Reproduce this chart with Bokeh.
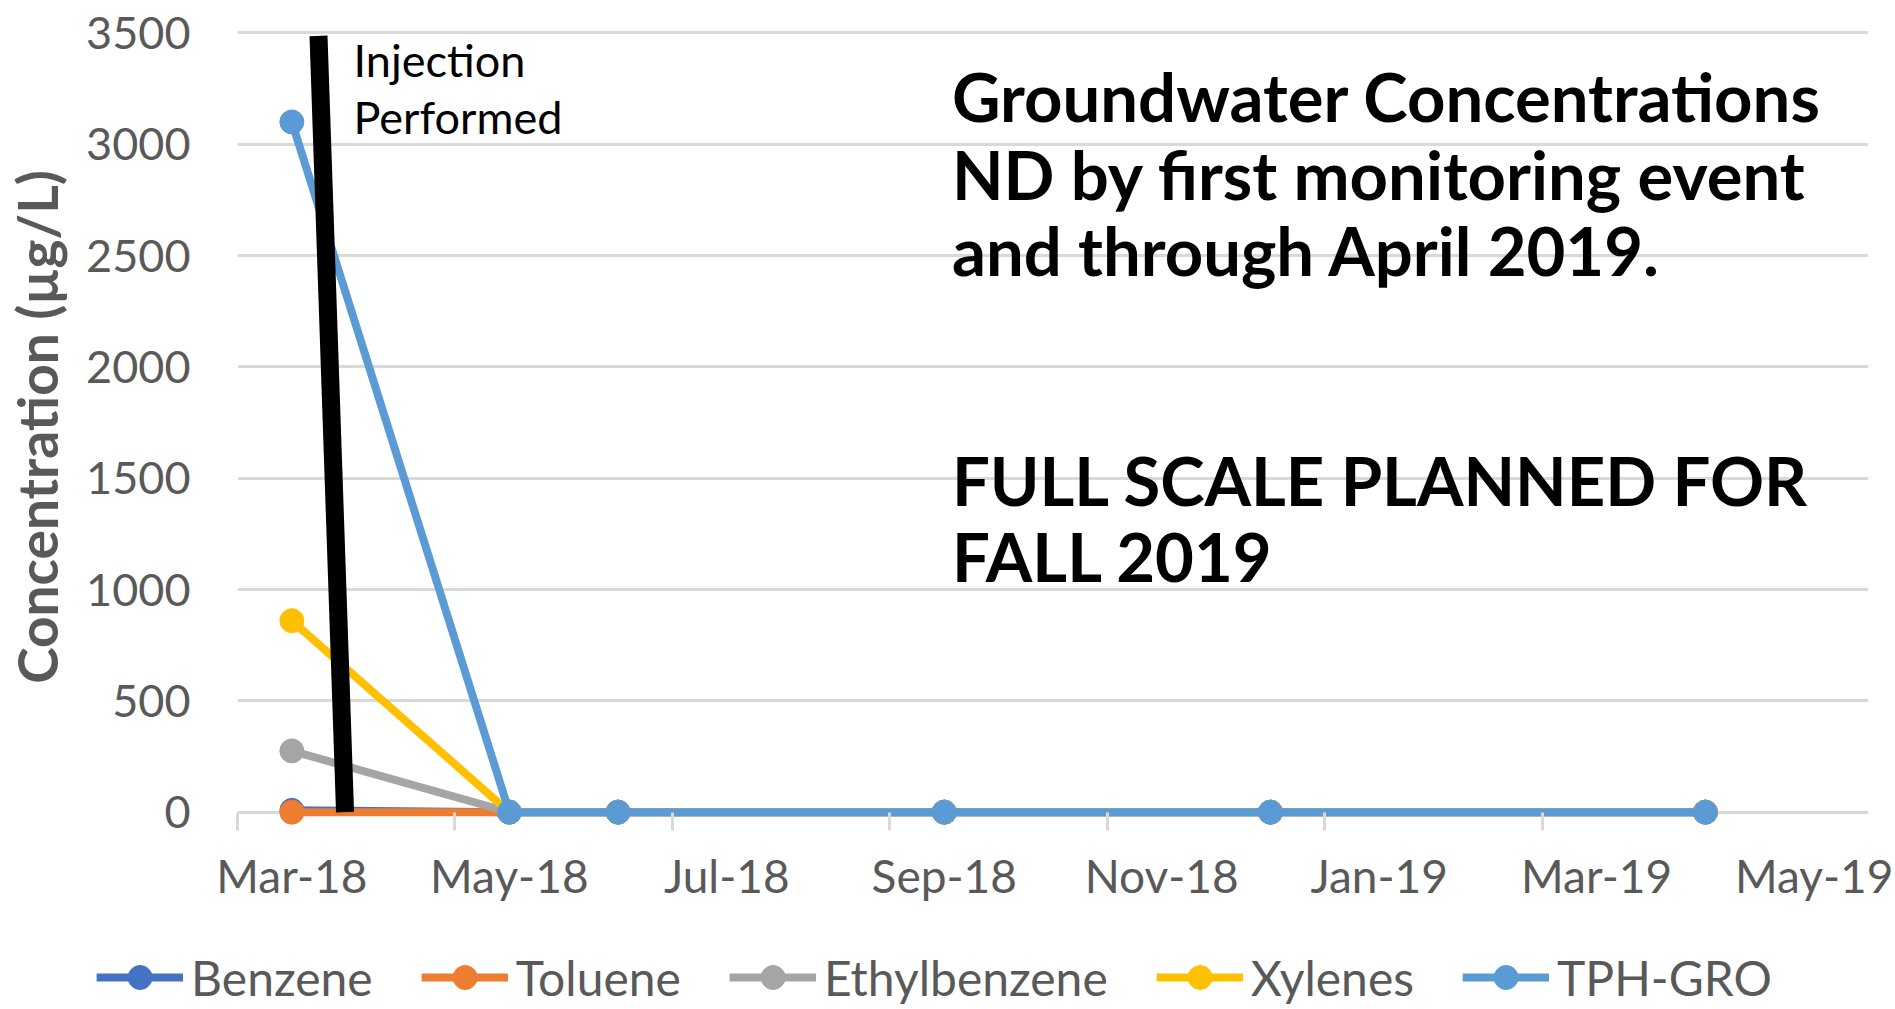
from bokeh.plotting import figure
from bokeh.layouts import column, row
from bokeh.models import FixedTicker, Legend, LegendItem, Label, Range1d, ColumnDataSource
from bokeh.embed import file_html
from bokeh.resources import INLINE

# ---------------- data ----------------
sample_months = ["2018-03", "2018-05", "2018-06", "2018-09", "2018-12", "2019-04"]
benzene = [8, 0, 0, 0, 0, 0]
toluene = [0, 0, 0, 0, 0, 0]
ethylbenzene = [275, 0, 0, 0, 0, 0]
xylenes = [860, 0, 0, 0, 0, 0]
tph_gro = [3100, 0, 0, 0, 0, 0]

series_names = ["Benzene", "Toluene", "Ethylbenzene", "Xylenes", "TPH-GRO"]
series_values = [benzene, toluene, ethylbenzene, xylenes, tph_gro]
series_colors = ["#4472C4", "#ED7D31", "#A5A5A5", "#FFC000", "#5B9BD5"]

y_ticks = [0, 500, 1000, 1500, 2000, 2500, 3000, 3500]
x_tick_months = ["2018-03", "2018-05", "2018-07", "2018-09", "2018-11", "2019-01", "2019-03", "2019-05"]
x_tick_labels = ["Mar-18", "May-18", "Jul-18", "Sep-18", "Nov-18", "Jan-19", "Mar-19", "May-19"]

# injection marker (drawn shape), in month index / concentration units
injection_x = [0.245, 0.489]
injection_y = [3487, 0]

title_lines = ["Groundwater Concentrations", "ND by first monitoring event", "and through April 2019."]
plan_lines = ["FULL SCALE PLANNED FOR", "FALL 2019"]
injection_lines = ["Injection", "Performed"]


def month_index(s):
    y, m = s.split("-")
    return (int(y) - 2018) * 12 + (int(m) - 3)


xs = [month_index(s) for s in sample_months]
tick_pos = [month_index(s) for s in x_tick_months]

GRAY = "#595959"
GRID = "#D9D9D9"
FONT = "Lato"
LW = 8
MS = 24

p = figure(width=1895, height=930, output_backend="svg", toolbar_location=None,
           title=None,
           x_range=Range1d(-0.5, 14.5), y_range=Range1d(-60, 3520),
           min_border_left=237, min_border_right=27, min_border_top=28, min_border_bottom=105)
p.outline_line_color = None
p.background_fill_color = "white"
p.border_fill_color = "white"

# grid
p.xgrid.visible = False
p.ygrid.grid_line_color = GRID
p.ygrid.grid_line_width = 3

# x axis
xa = p.xaxis[0]
xa.ticker = FixedTicker(ticks=tick_pos, minor_ticks=[t - 0.5 for t in tick_pos[:-1]])
xa.major_label_overrides = {t: lab for t, lab in zip(tick_pos, x_tick_labels)}
xa.axis_line_color = None
xa.major_tick_line_color = None
xa.major_tick_out = 0
xa.major_tick_in = 0
xa.minor_tick_line_color = GRID
xa.minor_tick_line_width = 3
xa.minor_tick_in = 13
xa.minor_tick_out = 5
xa.major_label_text_font = FONT
xa.major_label_text_font_size = "46px"
xa.major_label_text_color = GRAY
xa.major_label_standoff = 17

# y axis
ya = p.yaxis[0]
ya.ticker = FixedTicker(ticks=y_ticks)
ya.axis_line_color = None
ya.major_tick_line_color = None
ya.minor_tick_line_color = None
ya.major_tick_out = 0
ya.major_label_text_font = FONT
ya.major_label_text_font_size = "45px"
ya.major_label_text_color = GRAY
ya.major_label_standoff = 47
ya.axis_label = "Concentration (µg/L)"
ya.axis_label_text_font = FONT
ya.axis_label_text_font_style = "bold"
ya.axis_label_text_font_size = "55px"
ya.axis_label_text_color = GRAY
ya.axis_label_standoff = 13

# series
for name, vals, col in zip(series_names, series_values, series_colors):
    src = ColumnDataSource(dict(x=xs, y=vals))
    p.line("x", "y", source=src, line_color=col, line_width=LW)
    p.scatter("x", "y", source=src, size=MS, fill_color=col, line_color=col)

# injection marker line
p.line(injection_x, injection_y, line_color="black", line_width=18, line_cap="butt")

# text annotations
for txt, yv in zip(injection_lines, [3379, 3123]):
    p.add_layout(Label(x=0.567, y=yv, text=txt, text_font=FONT, text_font_size="45px",
                       text_color="black", text_baseline="middle", text_align="left"))

for txt, yv in zip(title_lines, [3219, 2865, 2523]):
    p.add_layout(Label(x=6.07, y=yv, text=txt, text_font=FONT, text_font_size="67px",
                       text_font_style="bold", text_color="black",
                       text_baseline="middle", text_align="left"))

for txt, yv in zip(plan_lines, [1494, 1151]):
    p.add_layout(Label(x=6.07, y=yv, text=txt, text_font=FONT, text_font_size="67px",
                       text_font_style="bold", text_color="black",
                       text_baseline="middle", text_align="left"))

# ---------------- legend strip ----------------
lp = figure(width=1895, height=79, output_backend="svg", toolbar_location=None, title=None,
            x_range=Range1d(0, 1), y_range=Range1d(0, 1),
            min_border_left=0, min_border_right=27, min_border_top=15, min_border_bottom=0)
lp.outline_line_color = None
lp.axis.visible = False
lp.grid.visible = False
lp.background_fill_color = "white"
lp.border_fill_color = "white"

items = []
for name, col in zip(series_names, series_colors):
    src = ColumnDataSource(dict(x=[-10], y=[-10]))
    l = lp.line("x", "y", source=src, line_color=col, line_width=LW)
    s = lp.scatter("x", "y", source=src, size=MS, fill_color=col, line_color=col)
    items.append(LegendItem(label=name, renderers=[l, s]))

legend = Legend(items=items, orientation="horizontal", location="center",
                label_text_font=FONT, label_text_font_size="48px", label_text_color=GRAY,
                glyph_width=87, glyph_height=60, label_standoff=8, spacing=48,
                padding=0, margin=0, border_line_color=None, background_fill_alpha=0)
lp.add_layout(legend)

layout = column(p, row(lp, spacing=0), spacing=0)
open("out.html", "w").write(file_html(layout, INLINE))
